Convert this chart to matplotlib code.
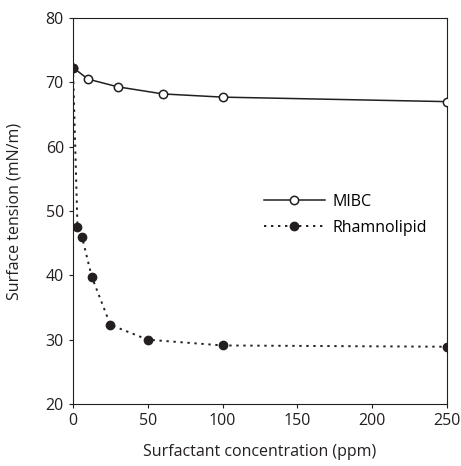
import matplotlib.pyplot as plt

plt.rcParams['font.family'] = ['Open Sans', 'DejaVu Sans']

# MIBC
mibc_x = [0, 10, 30, 60, 100, 250]
mibc_y = [72.3, 70.5, 69.3, 68.2, 67.7, 67.0]

# Rhamnolipid
rham_x = [0, 3, 6, 12.5, 25, 50, 100, 250]
rham_y = [72.3, 47.5, 46.0, 39.8, 32.3, 30.0, 29.1, 28.9]

fig = plt.figure(figsize=(4.61, 4.66), dpi=100)
ax = fig.add_axes([73/461, 62/466, 374/461, 386/466])

ax.plot(mibc_x, mibc_y, color="#231f20", lw=1.1, marker="o", ms=6,
        mfc="white", mec="#231f20", mew=1.1, label="MIBC", zorder=3)
ax.plot(rham_x, rham_y, color="#231f20", lw=1.4, ls=(0, (1.2, 2.4)), marker="o", ms=6,
        mfc="#231f20", mec="#231f20", label="Rhamnolipid", zorder=4)

ax.set_xlim(0, 250)
ax.set_ylim(20, 80)
ax.set_xticks([0, 50, 100, 150, 200, 250])
ax.set_yticks([20, 30, 40, 50, 60, 70, 80])
ax.tick_params(direction="out", length=3, width=0.8, labelsize=11.5, colors="#231f20")
for s in ax.spines.values():
    s.set_linewidth(0.8)
    s.set_color("#231f20")

ax.set_xlabel("Surfactant concentration (ppm)", fontsize=11.5, color="#231f20", labelpad=11)
ax.set_ylabel("Surface tension (mN/m)", fontsize=11.5, color="#231f20", labelpad=17)

ax.legend(loc="center right", bbox_to_anchor=(0.985, 0.49), frameon=False, fontsize=11.5,
          handlelength=3.8, handletextpad=0.5, labelspacing=0.6)

fig.savefig("out.png", dpi=100)
